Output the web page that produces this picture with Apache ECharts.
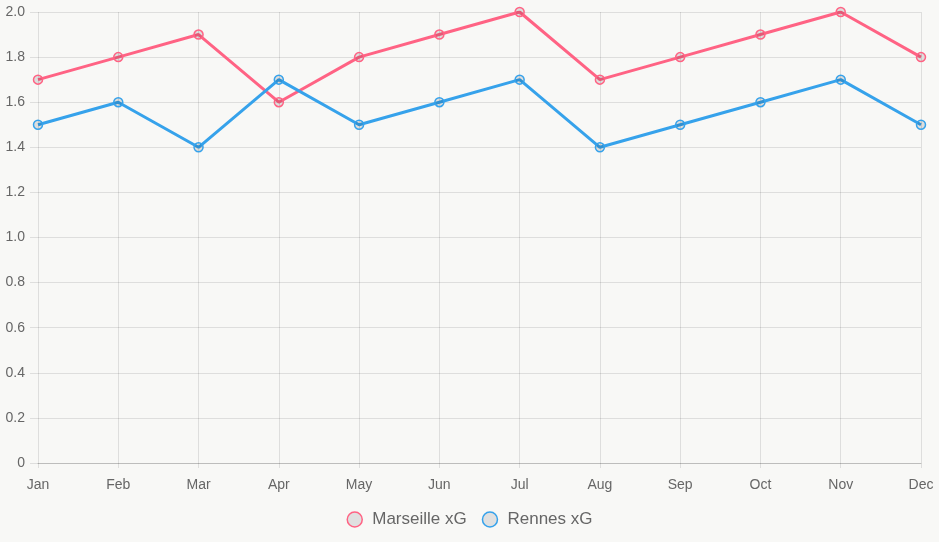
<!DOCTYPE html>
<html><head><meta charset="utf-8">
<script src="https://cdn.jsdelivr.net/npm/echarts@6/dist/echarts.min.js"></script>
<style>html,body{margin:0;padding:0;background:#f8f8f6;}#c{width:939px;height:542px;}</style>
</head><body><div id="c"></div>
<script>
const categories = ['Jan','Feb','Mar','Apr','May','Jun','Jul','Aug','Sep','Oct','Nov','Dec'];
const marseille = [1.7,1.8,1.9,1.6,1.8,1.9,2.0,1.7,1.8,1.9,2.0,1.8];
const rennes = [1.5,1.6,1.4,1.7,1.5,1.6,1.7,1.4,1.5,1.6,1.7,1.5];
const font = '"Liberation Sans", Arial, Helvetica, sans-serif';
const gridColor = 'rgba(0,0,0,0.1)';
const chart = echarts.init(document.getElementById('c'));
function mk(name, data, color){
  return {name, type:'line', data, symbol:'circle', symbolSize:9,
    lineStyle:{color, width:3}, itemStyle:{color:'rgba(0,0,0,0.1)', borderColor:color, borderWidth:1.5},
    emphasis:{disabled:true}, animation:false};
}
chart.setOption({
  backgroundColor:'#f8f8f6',
  animation:false,
  grid:{left:38,right:18,top:12,bottom:79},
  legend:{bottom:9,left:'center',icon:'circle',itemWidth:15,itemHeight:15,itemGap:15,
    textStyle:{color:'#666',fontSize:17,fontFamily:font,padding:[0,0,0,5]},
    data:[{name:'Marseille xG',itemStyle:{color:'#e0e0e0',borderColor:'#ff6384',borderWidth:1.5}},
          {name:'Rennes xG',itemStyle:{color:'#e0e0e0',borderColor:'#36a2eb',borderWidth:1.5}}]},
  xAxis:{type:'category',data:categories,boundaryGap:false,
    axisLine:{lineStyle:{color:'rgba(0,0,0,0.15)'}},
    axisTick:{show:true,length:5,lineStyle:{color:gridColor}},
    splitLine:{show:true,lineStyle:{color:gridColor}},
    axisLabel:{color:'#666',fontSize:14,fontFamily:font,margin:15}},
  yAxis:{type:'value',min:0,max:2,interval:0.2,
    axisLine:{show:false},
    axisTick:{show:true,length:8,lineStyle:{color:gridColor}},
    splitLine:{show:true,lineStyle:{color:gridColor}},
    axisLabel:{color:'#666',fontSize:14,fontFamily:font,margin:13,
      formatter:v=>v===0?'0':v.toFixed(1)}},
  series:[mk('Marseille xG',marseille,'#ff6384'),mk('Rennes xG',rennes,'#36a2eb')]
});
</script></body></html>
